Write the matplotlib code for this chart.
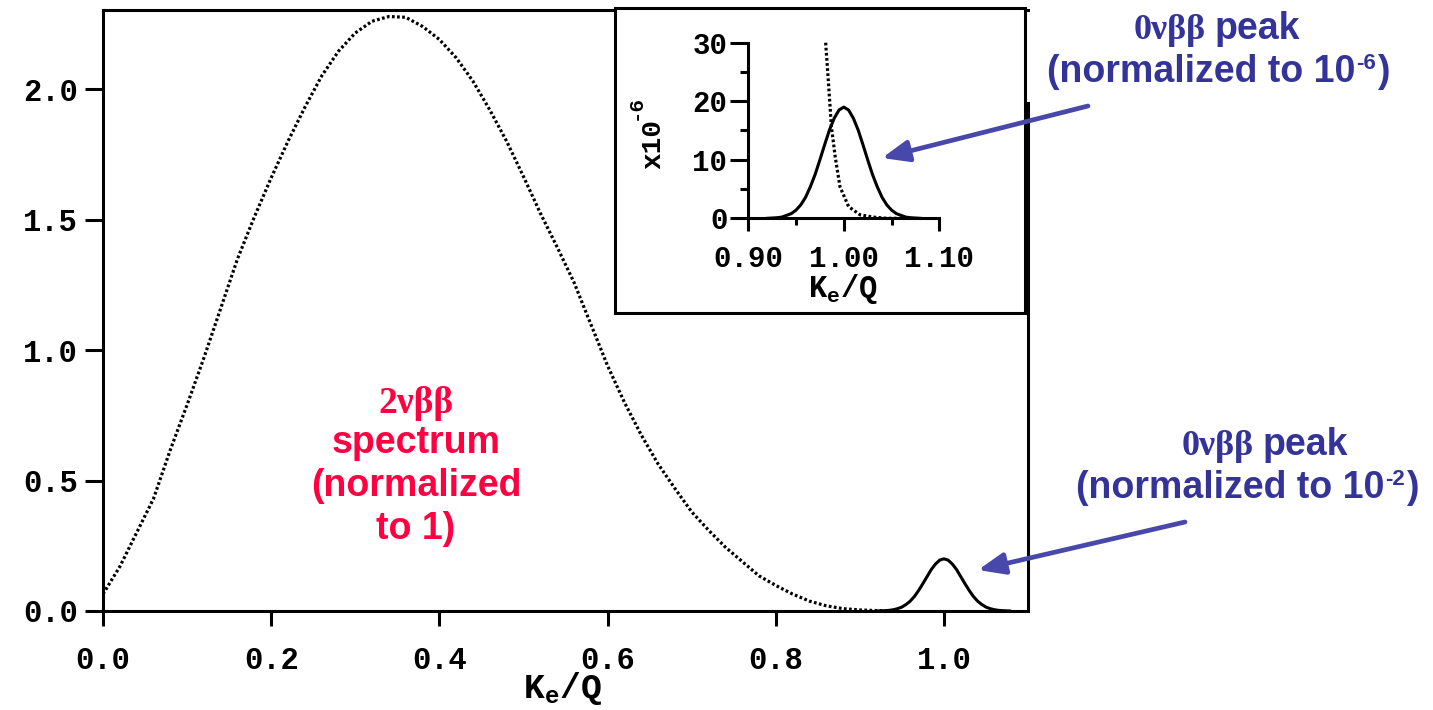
import matplotlib
matplotlib.use('Agg')
import matplotlib.pyplot as plt
from matplotlib.transforms import IdentityTransform
from matplotlib.patches import Rectangle, FancyArrowPatch
from matplotlib.ticker import FixedLocator

# ---------------- data ----------------
two_nu_x = [0.00, 0.02, 0.04, 0.06, 0.08, 0.10, 0.12, 0.14, 0.16, 0.18,
            0.20, 0.22, 0.24, 0.26, 0.28, 0.30, 0.32, 0.34, 0.36, 0.38,
            0.40, 0.42, 0.44, 0.46, 0.48, 0.50, 0.52, 0.54, 0.56, 0.58,
            0.60, 0.62, 0.64, 0.66, 0.68, 0.70, 0.72, 0.74, 0.76, 0.78,
            0.80, 0.82, 0.84, 0.86, 0.88, 0.90, 0.92, 0.94]
two_nu_y = [0.065, 0.170, 0.300, 0.430, 0.617, 0.790, 0.970, 1.160, 1.350, 1.510,
            1.660, 1.800, 1.930, 2.050, 2.145, 2.215, 2.260, 2.278, 2.275, 2.240,
            2.190, 2.120, 2.030, 1.920, 1.800, 1.665, 1.525, 1.395, 1.260, 1.100,
            0.940, 0.800, 0.675, 0.564, 0.470, 0.380, 0.310, 0.245, 0.190, 0.135,
            0.098, 0.065, 0.038, 0.020, 0.009, 0.004, 0.0015, 0.0]

peak_x = [0.920, 0.925, 0.930, 0.935, 0.940, 0.945, 0.950, 0.955, 0.960, 0.965,
          0.970, 0.975, 0.980, 0.985, 0.990, 0.995, 1.000, 1.005, 1.010, 1.015,
          1.020, 1.025, 1.030, 1.035, 1.040, 1.045, 1.050, 1.055, 1.060, 1.065,
          1.070, 1.075, 1.080]
peak_main_y = [0.0, 0.0006, 0.0013, 0.0025, 0.005, 0.009, 0.015, 0.025, 0.038, 0.056,
               0.079, 0.105, 0.132, 0.159, 0.180, 0.195, 0.200, 0.195, 0.180, 0.159,
               0.132, 0.105, 0.079, 0.056, 0.038, 0.025, 0.015, 0.009, 0.005, 0.0025,
               0.0013, 0.0006, 0.0]
peak_inset_y = [0.0, 0.05, 0.1, 0.2, 0.5, 0.8, 1.4, 2.3, 3.6, 5.4,
                7.5, 10.0, 12.6, 15.1, 17.1, 18.5, 19.0, 18.5, 17.1, 15.1,
                12.6, 10.0, 7.5, 5.4, 3.6, 2.3, 1.4, 0.8, 0.5, 0.2,
                0.1, 0.05, 0.0]

tail_inset_x = [0.981, 0.984, 0.987, 0.991, 0.996, 1.005, 1.017, 1.031, 1.045, 1.060]
tail_inset_y = [30.0, 23.0, 15.7, 10.5, 5.4, 2.0, 0.6, 0.2, 0.0, 0.0]

main_xticks = [0.0, 0.2, 0.4, 0.6, 0.8, 1.0]
main_xticklabels = ['0.0', '0.2', '0.4', '0.6', '0.8', '1.0']
main_yticks = [0.0, 0.5, 1.0, 1.5, 2.0]
main_yticklabels = ['0.0', '0.5', '1.0', '1.5', '2.0']
inset_xticks = [0.90, 1.00, 1.10]
inset_xticklabels = ['0.90', '1.00', '1.10']
inset_xminor = [0.95, 1.05]
inset_yticks = [0, 10, 20, 30]
inset_yticklabels = ['0', '10', '20', '30']
inset_yminor = [5, 15, 25]

# ---------------- style ----------------
plt.rcParams['font.family'] = ['Liberation Mono', 'DejaVu Sans Mono']
plt.rcParams['font.weight'] = 'bold'
plt.rcParams['mathtext.fontset'] = 'custom'
plt.rcParams['mathtext.rm'] = 'Liberation Mono:bold'
plt.rcParams['mathtext.it'] = 'Liberation Mono:bold'
plt.rcParams['mathtext.bf'] = 'Liberation Mono:bold'
plt.rcParams['axes.unicode_minus'] = False

W, H = 1433, 710
fig = plt.figure(figsize=(W / 100, H / 100), dpi=100)
fig.patch.set_facecolor('white')

RED = '#FF0040'
BLUE = '#333399'
ARROW = '#4848AA'
DOTS = (0, (0.85, 0.75))

# ---------------- main axes ----------------
ax = fig.add_axes([103 / W, 99 / H, 925 / W, 601 / H])
ax.plot(two_nu_x, two_nu_y, color='black', lw=2.3, linestyle=DOTS)
ax.plot(peak_x, peak_main_y, color='black', lw=2.2, solid_capstyle='butt')
ax.set_xlim(0, 1.1)
ax.set_ylim(0, 2.303)
ax.xaxis.set_major_locator(FixedLocator(main_xticks))
ax.set_xticklabels(main_xticklabels)
ax.yaxis.set_major_locator(FixedLocator(main_yticks))
ax.set_yticklabels(main_yticklabels)
for s in ax.spines.values():
    s.set_linewidth(2.2)
ax.spines['right'].set_bounds(0, 1.946)
ax.tick_params(axis='x', direction='out', length=11, width=2.2, labelsize=22, pad=14)
ax.tick_params(axis='y', direction='out', length=13, width=2.2, labelsize=22, pad=5)
ax.tick_params(top=False, right=False)

fig.text(563 / W, 12 / H, r'K$_\mathrm{e}$/Q', fontsize=25, fontweight='bold',
         ha='center', va='baseline')

# ---------------- inset box + axes ----------------
box = Rectangle((615, H - 313), 410, 305, transform=IdentityTransform(),
                facecolor='white', edgecolor='black', lw=2.2, zorder=3)
fig.add_artist(box)

axi = fig.add_axes([748.3 / W, (H - 218.3) / H, 191 / W, 175.6 / H], zorder=5)
axi.patch.set_alpha(0)
axi.plot(peak_x, peak_inset_y, color='black', lw=2.2, clip_on=False)
axi.plot(tail_inset_x, tail_inset_y, color='black', lw=2.3,
         linestyle=DOTS, clip_on=False)
axi.set_xlim(0.90, 1.10)
axi.set_ylim(0, 30)
axi.spines['top'].set_visible(False)
axi.spines['right'].set_visible(False)
axi.spines['left'].set_linewidth(2.2)
axi.spines['bottom'].set_linewidth(2.2)
axi.xaxis.set_major_locator(FixedLocator(inset_xticks))
axi.set_xticklabels(inset_xticklabels)
axi.xaxis.set_minor_locator(FixedLocator(inset_xminor))
axi.yaxis.set_major_locator(FixedLocator(inset_yticks))
axi.set_yticklabels(inset_yticklabels)
axi.yaxis.set_minor_locator(FixedLocator(inset_yminor))
axi.tick_params(axis='x', which='major', direction='out', length=9, width=2.2,
                labelsize=21, pad=10)
axi.tick_params(axis='x', which='minor', direction='out', length=5, width=2.2)
axi.tick_params(axis='y', which='major', direction='out', length=13, width=2.2,
                labelsize=21, pad=2)
axi.tick_params(axis='y', which='minor', direction='out', length=6, width=2.2)

fig.text(843 / W, (H - 297) / H, r'K$_\mathrm{e}$/Q', fontsize=22, fontweight='bold',
         ha='center', va='baseline')
# rotated "x10" with raised "-6"
fig.text(660, H - 169, 'x10', transform=IdentityTransform(), fontsize=20,
         fontweight='bold', rotation=90, rotation_mode='anchor',
         ha='left', va='baseline')
fig.text(641, H - 120, '-6', transform=IdentityTransform(), fontsize=15,
         fontweight='bold', rotation=90, rotation_mode='anchor',
         ha='left', va='baseline')

# ---------------- rich text helper ----------------
renderer = fig.canvas.get_renderer()
SERIF = dict(family=['Liberation Serif', 'DejaVu Serif'], weight='bold')
SANS = dict(family=['Liberation Sans', 'DejaVu Sans'], weight='bold')


def rich_line(cx, base_img_y, runs, color):
    texts, widths = [], []
    ys = H - base_img_y
    for s, props, size, dy, gap in runs:
        t = fig.text(0, ys + dy, s, transform=IdentityTransform(), ha='left',
                     va='baseline', color=color, fontsize=size,
                     fontfamily=props['family'], fontweight=props['weight'])
        w = t.get_window_extent(renderer).width
        texts.append(t)
        widths.append(w + gap)
    total = sum(widths)
    x = cx - total / 2
    for t, w in zip(texts, widths):
        t.set_x(x)
        x += w


# red annotation
rich_line(416, 413, [('2νββ', SERIF, 27, 0, 0)], RED)
rich_line(416, 453, [('spectrum', SANS, 27, 0, 0)], RED)
rich_line(416, 496, [('(normalized', SANS, 27, 0, 0)], RED)
rich_line(416, 539, [('to 1)', SANS, 27, 0, 0)], RED)

# blue annotations
rich_line(1217, 39, [('0νββ', SERIF, 26, 0, 9), ('peak', SANS, 27, 0, 0)], BLUE)
rich_line(1218, 82, [('(normalized to 10', SANS, 27, 0, 1),
                     ('-6', SANS, 16, 13, 1), (')', SANS, 27, 0, 0)], BLUE)
rich_line(1265, 455, [('0νββ', SERIF, 26, 0, 9), ('peak', SANS, 27, 0, 0)], BLUE)
rich_line(1247, 498, [('(normalized to 10', SANS, 27, 0, 1),
                      ('-2', SANS, 16, 13, 1), (')', SANS, 27, 0, 0)], BLUE)

# arrows
for tail, tip in [((1088, H - 106), (882, H - 158)),
                  ((1185, H - 522), (978, H - 570))]:
    arr = FancyArrowPatch(posA=tail, posB=tip, transform=IdentityTransform(),
                          arrowstyle='-|>,head_length=1.6,head_width=0.65',
                          mutation_scale=10, lw=3.4, color=ARROW,
                          shrinkA=0, shrinkB=0, zorder=10)
    fig.add_artist(arr)

fig.savefig('out.png', dpi=100, facecolor='white')
